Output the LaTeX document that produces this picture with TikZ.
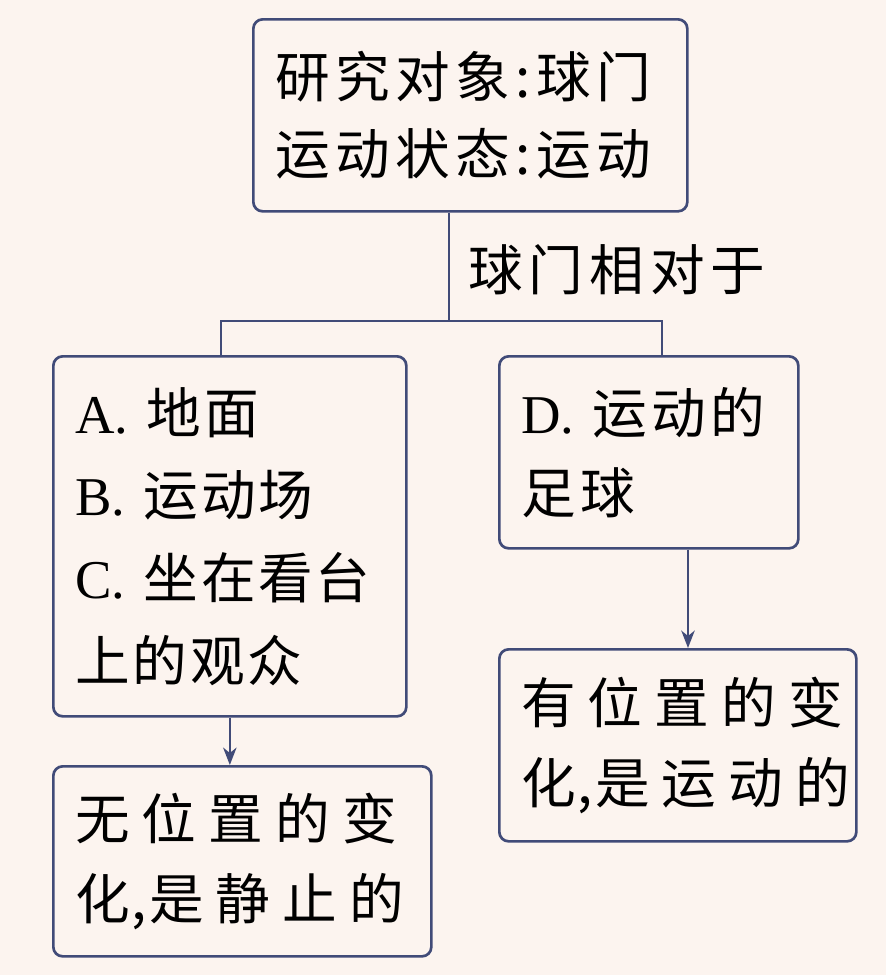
\documentclass[tikz,border=0pt]{standalone}
\usepackage{fontspec}
\setmainfont{Noto Sans CJK SC}
\newfontfamily\lat{Liberation Serif}
\usetikzlibrary{arrows.meta}
\definecolor{bgc}{HTML}{FCF4EF}
\definecolor{lnc}{HTML}{414B78}
\tikzset{
  box/.style={draw=lnc, line width=2pt, rounded corners=7pt, fill=bgc,
    anchor=north west, align=left, inner xsep=16.5pt, inner ysep=0pt},
  link/.style={draw=lnc, line width=2pt},
  arr/.style={link, -{Stealth[length=13pt,width=10pt,inset=4pt]}},
  txt/.style={font=\fontsize{41pt}{58pt}\selectfont}
}
\begin{document}
\begin{tikzpicture}[x=0.75pt,y=-0.75pt]
\useasboundingbox (0,0) rectangle (886,975);
\fill[bgc] (0,0) rectangle (886,975);
\node[box, txt, text width=292.5pt, minimum height=144pt] (top) at (252,18)
  {\addfontfeature{LetterSpace=10}研究对象:球门\\运动状态:运动};
\node[box, font=\fontsize{41pt}{62pt}\selectfont, text width=231.75pt, minimum height=270pt] (A) at (52,355)
  {\addfontfeature{LetterSpace=5}{\lat A.} 地面\\{\lat B.} 运动场\\{\lat C.} 坐在看台\\上的观众};
\node[box, font=\fontsize{41pt}{60pt}\selectfont, text width=191.25pt, minimum height=144pt] (D) at (498,355)
  {\addfontfeature{LetterSpace=8}{\lat D.} 运动的\\足球};
\node[box, font=\fontsize{41pt}{60pt}\selectfont, text width=250.5pt, minimum height=142.5pt] (S) at (52,765)
  {\addfontfeature{LetterSpace=22}无位置的变\\化\kern1.5pt,\kern1.5pt是静止的};
\node[box, font=\fontsize{41pt}{60pt}\selectfont, text width=234.75pt, minimum height=144pt] (R) at (498,648)
  {\addfontfeature{LetterSpace=22}有位置的变\\化\kern1.5pt,\kern1.5pt是运动的};
\node[txt, anchor=west, inner sep=0pt] (lbl) at (468,270) {\addfontfeature{LetterSpace=11}球门相对于};
\coordinate (jm) at (449,321);
\coordinate (jA) at (221,321);
\coordinate (jD) at (662,321);
\coordinate (xr) at (688,0);
\draw[link] (top.south -| jm) -- (jm);
\draw[link] (A.north -| jA) |- (jD) -- (D.north -| jD);
\draw[arr] (A.south) -- (A.south |- S.north);
\draw[arr] (D.south -| xr) -- (R.north -| xr);
\end{tikzpicture}
\end{document}
